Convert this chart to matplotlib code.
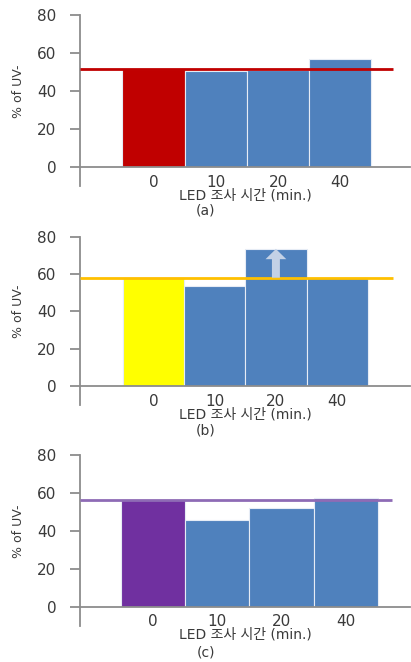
import matplotlib
matplotlib.use("Agg")
import matplotlib.pyplot as plt
from matplotlib.patches import FancyArrow

plt.rcParams["font.family"] = ["DejaVu Sans", "Noto Sans CJK KR"]

# data
times = ["0", "10", "20", "40"]
values_a = [51.4, 50.7, 51.2, 56.7]
values_b = [57.9, 53.7, 73.7, 57.9]
values_c = [56.3, 45.7, 51.9, 57.5]
ref_a = 51.4
ref_b = 58.2
ref_c = 56.3
captions = ["(a)", "(b)", "(c)"]

BLUE = "#4F81BD"
AXIS = "#8C8C8C"
TEXT = "#3A3A3A"

W, H = 411, 662
panels = [
    # values, ref, first bar colour, line colour, top px, bottom px, xlim, tick pad, caption y px
    (values_a, ref_a, "#C00000", "#C00000", 15.0, 166.7, (-1.18, 4.12), 6, 211),
    (values_b, ref_b, "#FFFF00", "#FFC000", 237.3, 385.7, (-1.20, 4.19), 6, 431),
    (values_c, ref_c, "#7030A0", "#8E6BB5", 455.0, 606.7, (-1.14, 4.00), 5, 652),
]

fig = plt.figure(figsize=(W / 100, H / 100), dpi=100)

for i, (vals, ref, c0, lc, top, bot, xl, tpad, cap_y) in enumerate(panels):
    ax = fig.add_axes([80 / W, 1 - bot / H, 330 / W, (bot - top) / H])
    colors = [c0] + [BLUE] * (len(vals) - 1)
    x = list(range(len(vals)))
    ax.bar(x, vals, width=1.0, color=colors, edgecolor="#E6ECF5", lw=0.8, zorder=2)
    ax.plot([xl[0], xl[1] - 0.28], [ref, ref], color=lc, lw=2.0, zorder=3,
            solid_capstyle="butt")
    if i == 1:
        arr = FancyArrow(2, ref, 0, vals[2] - ref, width=0.13, head_width=0.34,
                         head_length=5.5, length_includes_head=True,
                         color="#C3D1E6", zorder=4, lw=0)
        ax.add_patch(arr)
    ax.set_xlim(*xl)
    ax.set_ylim(0, 80)
    ax.set_yticks([0, 20, 40, 60, 80])
    ax.set_xticks(x)
    ax.set_xticklabels(times)
    for s in ["top", "right"]:
        ax.spines[s].set_visible(False)
    for s in ["left", "bottom"]:
        ax.spines[s].set_color(AXIS)
        ax.spines[s].set_linewidth(1.3)
    ax.tick_params(axis="y", length=7, width=1.3, color=AXIS, labelsize=11,
                   labelcolor=TEXT, pad=10)
    ax.tick_params(axis="x", length=0, labelsize=11, labelcolor=TEXT, pad=tpad)
    ax.axvline(xl[0], ymin=-0.13, ymax=0, color=AXIS, lw=1.3, clip_on=False)
    ax.set_ylabel("% of UV-", fontsize=9, color=TEXT, labelpad=9)
    ax.set_xlabel("LED 조사 시간 (min.)", fontsize=10, color=TEXT, labelpad=-1)
    fig.text(0.5, 1 - cap_y / H, captions[i], ha="center", va="center",
             fontsize=10, color=TEXT)

fig.savefig("out.png", dpi=100)
